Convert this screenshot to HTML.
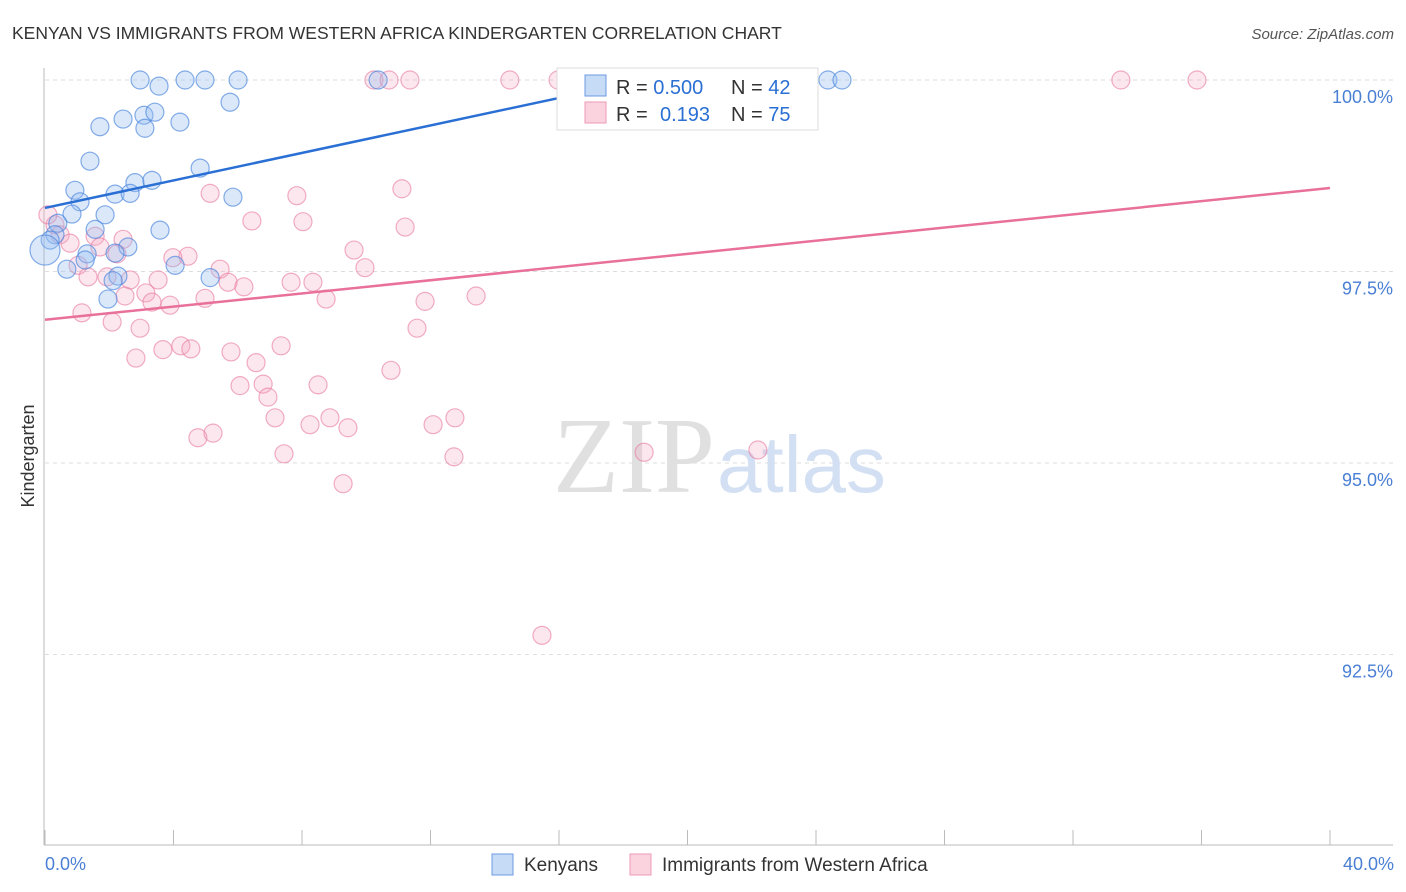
<!DOCTYPE html>
<html><head><meta charset="utf-8"><style>
body{margin:0;background:#fff;font-family:"Liberation Sans",sans-serif}
svg{display:block}
</style></head><body>
<svg width="1406" height="892" xmlns="http://www.w3.org/2000/svg">
<text x="12" y="39" font-size="17.5" fill="#333">KENYAN VS IMMIGRANTS FROM WESTERN AFRICA KINDERGARTEN CORRELATION CHART</text>
<text x="1394" y="39" font-size="15" fill="#555" font-style="italic" text-anchor="end">Source: ZipAtlas.com</text>
<g id="grid"></g>
<text x="553" y="492" font-size="108" fill="#e0e0e0" font-family="Liberation Serif,serif">ZIP</text>
<text x="717" y="492" font-size="80" fill="#d3e0f3">atlas</text>
<g id="pts"></g>
<g id="lines"></g>
<text transform="translate(34,456) rotate(-90)" font-size="18" fill="#333" text-anchor="middle">Kindergarten</text>
<text x="45" y="870" font-size="18" fill="#4a7fd4">0.0%</text>
<text x="1394" y="870" font-size="18" fill="#4a7fd4" text-anchor="end">40.0%</text>
<g>
<rect x="557" y="68" width="261" height="62" fill="#fff" stroke="#ddd"/>
<rect x="585" y="75" width="21" height="21" fill="#c6dbf6" stroke="#6a9be0"/>
<rect x="585" y="102" width="21" height="21" fill="#fbd3df" stroke="#ee9ab4"/>
<text x="616" y="94" font-size="20" fill="#333">R = <tspan fill="#2a6fd4">0.500</tspan></text>
<text x="731" y="94" font-size="20" fill="#333">N = <tspan fill="#2a6fd4">42</tspan></text>
<text x="616" y="121" font-size="20" fill="#333">R = <tspan fill="#2a6fd4" x="660">0.193</tspan></text>
<text x="731" y="121" font-size="20" fill="#333">N = <tspan fill="#2a6fd4">75</tspan></text>
</g>
<g>
<rect x="492" y="854" width="21" height="21" fill="#c6dbf6" stroke="#6a9be0"/>
<text x="524" y="871" font-size="19" fill="#333">Kenyans</text></g>
<g>
<rect x="630" y="854" width="21" height="21" fill="#fbd3df" stroke="#ee9ab4"/>
<text x="662" y="871" font-size="19" fill="#333">Immigrants from Western Africa</text></g>
</svg>
<script>
const blueX=[2.96,3.55,4.36,4.98,6.01,5.76,2.43,3.08,3.42,3.11,4.20,1.71,1.40,4.83,2.80,3.33,0.93,1.09,2.18,2.65,5.85,1.87,0.84,0.40,1.56,3.58,0.31,0.16,0.0,2.58,1.31,2.18,4.05,0.68,1.25,5.14,2.27,2.12,1.96,10.37,24.37,24.81];
const blueY=[100,99.92,100,100,100,99.71,99.49,99.54,99.58,99.37,99.45,99.39,98.94,98.85,98.66,98.69,98.56,98.41,98.51,98.52,98.47,98.24,98.25,98.13,98.05,98.04,97.98,97.91,97.78,97.82,97.73,97.74,97.58,97.53,97.65,97.42,97.44,97.38,97.14,100,100,100];
const pinkX=[10.24,11.36,10.71,14.47,15.97,16.65,19.27,33.49,35.86,5.14,7.84,11.11,6.44,8.03,11.21,0.31,0.47,0.78,0.09,1.56,1.71,2.43,9.62,4.45,3.98,2.24,5.45,9.96,1.03,1.34,1.93,2.65,3.52,5.70,6.19,7.66,8.34,3.14,2.49,3.33,3.89,4.98,8.75,11.83,13.42,1.15,2.09,2.96,11.58,2.83,3.67,4.23,4.54,5.79,6.57,7.35,6.07,6.79,6.94,8.50,10.77,7.16,8.87,9.43,12.08,12.76,4.76,5.23,7.44,8.25,12.73,9.28,18.65,22.19,15.47];
const pinkY=[100,100,100,100,100,100,100,100,100,98.52,98.49,98.58,98.16,98.15,98.08,98.11,97.98,97.87,98.24,97.96,97.82,97.92,97.78,97.70,97.68,97.73,97.53,97.55,97.58,97.43,97.43,97.39,97.39,97.36,97.30,97.36,97.36,97.22,97.18,97.10,97.06,97.15,97.14,97.11,97.18,96.96,96.84,96.76,96.76,96.37,96.48,96.53,96.49,96.45,96.31,96.53,96.01,96.03,95.86,96.02,96.21,95.59,95.59,95.46,95.50,95.59,95.33,95.39,95.12,95.50,95.08,94.73,95.14,95.17,92.75];
const yTicks=[100,97.5,95,92.5];
const yTickLabels=["100.0%","97.5%","95.0%","92.5%"];
const blueTrend=[[0,98.33],[18.5,99.99]];
const pinkTrend=[[0,96.87],[40,98.59]];
const NS="http://www.w3.org/2000/svg";
const sx=v=>45+v*32.125, sy=v=>80+(100-v)*76.6;
function mk(tag,attrs,parent){const e=document.createElementNS(NS,tag);for(const k in attrs)e.setAttribute(k,attrs[k]);parent.appendChild(e);return e;}
const grid=document.getElementById('grid');
yTicks.forEach((t,i)=>{
 const l=mk('line',{x1:45,x2:1393,y1:sy(t),y2:sy(t),stroke:'#ddd','stroke-dasharray':'4 4'},grid);
 
 
 const tx=mk('text',{x:1393,y:sy(t)+23,'font-size':18,fill:'#4a7fd4','text-anchor':'end'},grid);
 tx.textContent=yTickLabels[i];
 
 
});
const ax=mk('line',{x1:44,x2:44,y1:68,y2:845,stroke:'#bbb'},grid);


const bx=mk('line',{x1:44,x2:1393,y1:845,y2:845,stroke:'#bbb'},grid);


for(let i=0;i<=10;i++){const t=mk('line',{x1:sx(i*4),x2:sx(i*4),y1:830,y2:845,stroke:'#bbb'},grid);
 
 }
const pts=document.getElementById('pts');
pinkX.forEach((x,i)=>{const c=mk('circle',{cx:sx(x),cy:sy(pinkY[i]),r:9,fill:'rgba(246,170,195,0.28)',stroke:'rgba(232,120,158,0.6)','stroke-width':1.2},pts);
 
 });
blueX.forEach((x,i)=>{const c=mk('circle',{cx:sx(x),cy:sy(blueY[i]),r:x===0?15:9,fill:'rgba(150,190,240,0.35)',stroke:'rgba(70,130,220,0.65)','stroke-width':1.2},pts);
 
 });
const lines=document.getElementById('lines');
const bl=mk('line',{x1:sx(blueTrend[0][0]),y1:sy(blueTrend[0][1]),x2:sx(blueTrend[1][0]),y2:sy(blueTrend[1][1]),stroke:'#2a6fd4','stroke-width':2.5},lines);


const pl=mk('line',{x1:sx(pinkTrend[0][0]),y1:sy(pinkTrend[0][1]),x2:sx(pinkTrend[1][0]),y2:sy(pinkTrend[1][1]),stroke:'#e8709a','stroke-width':2.5},lines);


</script>
</body></html>
